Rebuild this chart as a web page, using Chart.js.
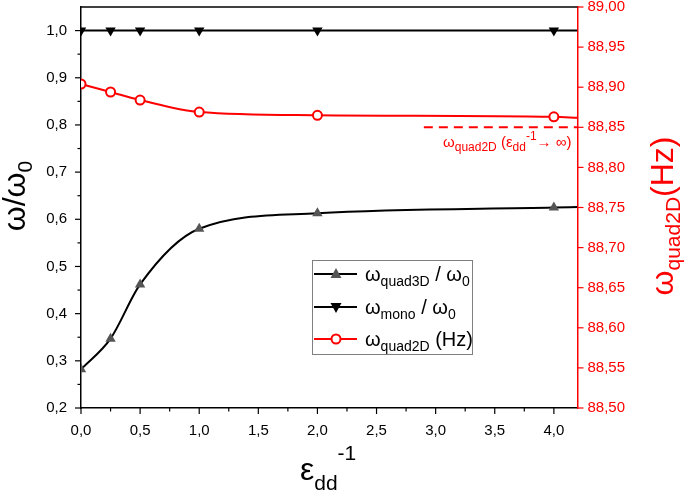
<!DOCTYPE html>
<html><head><meta charset="utf-8">
<script src="https://cdn.jsdelivr.net/npm/chart.js@4/dist/chart.umd.min.js"></script>
<style>html,body{margin:0;padding:0;background:#fff}#wrap{width:685px;height:493px;position:relative}</style>
</head><body><div id="wrap"><canvas id="c" width="685" height="493"></canvas></div>
<script>
// ---- data ----
const epsInv = [0, 0.25, 0.5, 1.0, 2.0, 4.0];
const quad3DRatio = [0.282, 0.347, 0.462, 0.580, 0.613, 0.625];
const monoRatio = [1.0, 1.0, 1.0, 1.0, 1.0, 1.0];
const quad2DHz = [88.904, 88.894, 88.884, 88.869, 88.865, 88.863];
// fitted curves continue to the right frame
const curveEndX = 4.2;
const quad3DEnd = 0.626;
const monoEnd = 1.0;
const quad2DEnd = 88.862;
// asymptote (eps_dd^-1 -> infinity)
const asymptoteHz = 88.85;
const asymptoteX = [2.9, 4.2];
// ticks
const xTicks = [0, 0.5, 1.0, 1.5, 2.0, 2.5, 3.0, 3.5, 4.0];
const yTicks = [0.2, 0.3, 0.4, 0.5, 0.6, 0.7, 0.8, 0.9, 1.0];
const y2Ticks = [88.50, 88.55, 88.60, 88.65, 88.70, 88.75, 88.80, 88.85, 88.90, 88.95, 89.00];

const FONT = '"Liberation Sans", Arial, sans-serif';
const RED = '#ff0000';

function series(xs, ys, endX, endY) {
  const pts = xs.map((x, i) => ({x: x, y: ys[i]}));
  pts.push({x: endX, y: endY});
  return pts;
}
const markerRadius = (r) => epsInv.map(() => r).concat([0]);

function rich(ctx, segs, x, y, align, rot, color) {
  ctx.save();
  ctx.translate(x, y);
  ctx.rotate(rot || 0);
  let w = 0;
  segs.forEach(s => { ctx.font = s[1] + 'px ' + FONT; s.w = ctx.measureText(s[0]).width; w += s.w; });
  let cx = align === 'center' ? -w / 2 : (align === 'right' ? -w : 0);
  ctx.fillStyle = color;
  ctx.textBaseline = 'alphabetic';
  ctx.textAlign = 'left';
  segs.forEach(s => { ctx.font = s[1] + 'px ' + FONT; ctx.fillText(s[0], cx, s[2] || 0); cx += s.w; });
  ctx.restore();
}

const decor = {
  id: 'decor',
  afterDraw(chart) {
    const ctx = chart.ctx;
    const a = chart.chartArea;
    const xs = chart.scales.x, ys = chart.scales.y, y2 = chart.scales.y2;
    ctx.save();
    // top frame
    ctx.strokeStyle = '#000'; ctx.lineWidth = 1.5;
    ctx.beginPath(); ctx.moveTo(a.left - 0.75, a.top); ctx.lineTo(a.right, a.top); ctx.stroke();
    // x ticks (major + minor)
    ctx.lineWidth = 1.2;
    xTicks.forEach((v, i) => {
      const p = xs.getPixelForValue(v);
      ctx.beginPath(); ctx.moveTo(p, a.bottom); ctx.lineTo(p, a.bottom + 6); ctx.stroke();
      if (i < xTicks.length - 1) {
        const m = xs.getPixelForValue((v + xTicks[i + 1]) / 2);
        ctx.beginPath(); ctx.moveTo(m, a.bottom); ctx.lineTo(m, a.bottom + 3.5); ctx.stroke();
      }
    });
    // left y ticks
    yTicks.forEach((v, i) => {
      const p = ys.getPixelForValue(v);
      ctx.beginPath(); ctx.moveTo(a.left, p); ctx.lineTo(a.left - 6, p); ctx.stroke();
      if (i < yTicks.length - 1) {
        const m = ys.getPixelForValue((v + yTicks[i + 1]) / 2);
        ctx.beginPath(); ctx.moveTo(a.left, m); ctx.lineTo(a.left - 3.5, m); ctx.stroke();
      }
    });
    // right y ticks
    ctx.strokeStyle = RED;
    y2Ticks.forEach(v => {
      const p = y2.getPixelForValue(v);
      ctx.beginPath(); ctx.moveTo(a.right, p); ctx.lineTo(a.right + 6, p); ctx.stroke();
    });
    ctx.restore();

    // axis titles
    rich(ctx, [['ω', 32], ['/', 32], ['ω', 32], ['0', 21, 7]], 25, 196, 'center', -Math.PI / 2, '#000');
    rich(ctx, [['ω', 32], ['quad2D', 21, 7], ['(Hz)', 32]], 673, 216, 'center', -Math.PI / 2, RED);
    rich(ctx, [['ε', 32], ['dd', 21, 10], ['-1', 21, -20]], 300, 480, 'left', 0, '#000');

    // asymptote label
    rich(ctx, [['ω', 15], ['quad2D', 12, 4], [' (ε', 15], ['dd', 12, 4], ['-1', 12, -7], ['→ ∞)', 15]], 443, 147, 'left', 0, RED);

    // legend
    ctx.save();
    ctx.strokeStyle = '#7f7f7f'; ctx.lineWidth = 1;
    ctx.strokeRect(312.5, 260.5, 160, 94);
    const rows = [
      {y: 274, color: '#000', marker: 'up', segs: [['ω', 20], ['quad3D', 14, 5], [' / ω', 20], ['0', 14, 5]]},
      {y: 307, color: '#000', marker: 'down', segs: [['ω', 20], ['mono', 14, 5], [' / ω', 20], ['0', 14, 5]]},
      {y: 339, color: RED, marker: 'circle', segs: [['ω', 20], ['quad2D', 14, 5], [' (Hz)', 20]]}
    ];
    rows.forEach(r => {
      ctx.strokeStyle = r.color; ctx.lineWidth = 2;
      ctx.beginPath(); ctx.moveTo(314, r.y); ctx.lineTo(357, r.y); ctx.stroke();
      const mx = 336;
      if (r.marker === 'up') {
        ctx.fillStyle = '#555555';
        ctx.beginPath(); ctx.moveTo(mx, r.y - 6); ctx.lineTo(mx + 5.5, r.y + 4); ctx.lineTo(mx - 5.5, r.y + 4); ctx.closePath(); ctx.fill();
      } else if (r.marker === 'down') {
        ctx.fillStyle = '#000';
        ctx.beginPath(); ctx.moveTo(mx, r.y + 6); ctx.lineTo(mx + 5.5, r.y - 4); ctx.lineTo(mx - 5.5, r.y - 4); ctx.closePath(); ctx.fill();
      } else {
        ctx.fillStyle = '#fff'; ctx.strokeStyle = RED; ctx.lineWidth = 2;
        ctx.beginPath(); ctx.arc(mx, r.y, 4.5, 0, Math.PI * 2); ctx.fill(); ctx.stroke();
      }
      rich(ctx, r.segs, 365, r.y + 7, 'left', 0, '#000');
    });
    ctx.restore();
  }
};

const fmt1 = v => v.toFixed(1).replace('.', ',');
const fmt2 = v => v.toFixed(2).replace('.', ',');
const noPadV = s => { s.paddingTop = 0; s.paddingBottom = 0; };
const noPadH = s => { s.paddingLeft = 0; s.paddingRight = 0; };

new Chart(document.getElementById('c'), {
  type: 'scatter',
  data: {
    datasets: [
      {
        label: 'mono',
        data: series(epsInv, monoRatio, curveEndX, monoEnd),
        yAxisID: 'y', showLine: true,
        borderColor: '#000', borderWidth: 2,
        pointStyle: 'triangle', rotation: 180,
        pointRadius: markerRadius(6), pointBackgroundColor: '#000', pointBorderColor: '#000', pointBorderWidth: 0,
        cubicInterpolationMode: 'monotone'
      },
      {
        label: 'quad3D',
        data: series(epsInv, quad3DRatio, curveEndX, quad3DEnd),
        yAxisID: 'y', showLine: true,
        borderColor: '#000', borderWidth: 2,
        pointStyle: 'triangle',
        pointRadius: markerRadius(6), pointBackgroundColor: '#555555', pointBorderColor: '#555555', pointBorderWidth: 0,
        cubicInterpolationMode: 'monotone'
      },
      {
        label: 'quad2D',
        data: series(epsInv, quad2DHz, curveEndX, quad2DEnd),
        yAxisID: 'y2', showLine: true,
        borderColor: RED, borderWidth: 2,
        pointStyle: 'circle',
        pointRadius: markerRadius(4.5), pointBackgroundColor: '#fff', pointBorderColor: RED, pointBorderWidth: 2,
        cubicInterpolationMode: 'monotone'
      },
      {
        label: 'asymptote',
        data: asymptoteX.map(x => ({x: x, y: asymptoteHz})),
        yAxisID: 'y2', showLine: true,
        borderColor: RED, borderWidth: 2, borderDash: [9, 6],
        pointRadius: 0
      }
    ]
  },
  options: {
    responsive: false, animation: false, devicePixelRatio: 1,
    layout: {padding: {top: 7, left: 0, right: 0, bottom: 0}},
    plugins: {legend: {display: false}, tooltip: {enabled: false}},
    scales: {
      x: {
        type: 'linear', min: 0, max: 4.2,
        afterBuildTicks: s => { s.ticks = xTicks.map(v => ({value: v})); },
        afterFit: s => { s.height = 85; noPadH(s); },
        grid: {display: false, drawTicks: false, tickLength: 0},
        border: {display: true, color: '#000', width: 1.5},
        ticks: {color: '#000', font: {family: FONT, size: 15}, padding: 14, maxRotation: 0, autoSkip: false, callback: v => fmt1(v)}
      },
      y: {
        type: 'linear', position: 'left', min: 0.2, max: 1.05,
        afterBuildTicks: s => { s.ticks = yTicks.map(v => ({value: v})); },
        afterFit: s => { s.width = 81; noPadV(s); },
        grid: {display: false, drawTicks: false, tickLength: 0},
        border: {display: true, color: '#000', width: 1.5},
        ticks: {color: '#000', font: {family: FONT, size: 15}, padding: 14, autoSkip: false, callback: v => fmt1(v)}
      },
      y2: {
        type: 'linear', position: 'right', min: 88.50, max: 89.00,
        afterBuildTicks: s => { s.ticks = y2Ticks.map(v => ({value: v})); },
        afterFit: s => { s.width = 107.5; noPadV(s); },
        grid: {display: false, drawTicks: false, tickLength: 0},
        border: {display: true, color: RED, width: 1.5},
        ticks: {color: RED, font: {family: FONT, size: 15}, padding: 10, autoSkip: false, callback: v => fmt2(v)}
      }
    }
  },
  plugins: [decor]
});
</script>
</body></html>
